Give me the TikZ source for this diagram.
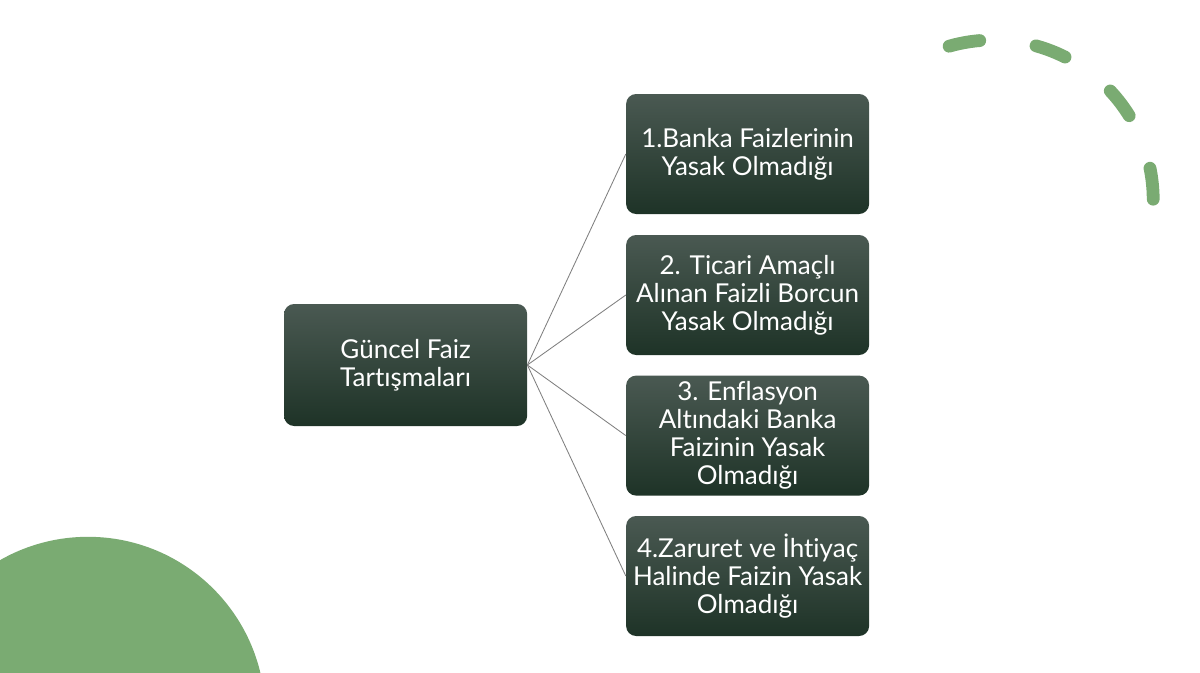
\documentclass[tikz,border=0pt]{standalone}
\usepackage{fontspec}
\setmainfont[Ligatures={NoCommon}]{Lato}
\usepackage{xcolor}
\usepackage{tikz}
\usetikzlibrary{positioning, shadings}

\definecolor{boxtop}{HTML}{4A5952}
\definecolor{boxbot}{HTML}{1E3327}
\definecolor{leaf}{HTML}{7AAB72}
\definecolor{linkgray}{HTML}{7F7F7F}

\begin{document}
\begin{tikzpicture}[
    box/.style={rounded corners=0.25cm, top color=boxtop, bottom color=boxbot,
                draw=none, align=center, text=white, inner sep=2pt,
                minimum width=6.075cm, minimum height=3.0cm,
                font=\fontsize{18.5}{20}\selectfont},
    link/.style={draw=linkgray, line width=0.6pt},
  ]

  % ============ Canvas ============
  \useasboundingbox (0,0) rectangle (30,-16.8);
  \clip (0,0) rectangle (30,-16.8);

  % ============ Decoration ============
  \fill[leaf] (2.2,-17.85) circle (4.43);
  \draw[leaf, line width=0.32cm, line cap=round,
        dash pattern=on 0.78cm off 1.42cm]
    (24.83,-5.0) ++(106:4.0) arc (106:-1:4.0);

  % ============ Root ============
  \node[box, minimum height=3.05cm] (root) at (10.14,-9.125)
    {Güncel Faiz\\Tartışmaları};

  % ============ Branches ============
  \node[box] (b1) at (18.69,-3.85)
    {1.Banka Faizlerinin\\Yasak Olmadığı};
  \node[box] (b2) at (18.69,-7.375)
    {2. Ticari Amaçlı\\Alınan Faizli Borcun\\Yasak Olmadığı};
  \node[box] (b3) at (18.69,-10.89)
    {3. Enflasyon\\Altındaki Banka\\Faizinin Yasak\\Olmadığı};
  \node[box] (b4) at (18.69,-14.4)
    {4.Zaruret ve İhtiyaç\\Halinde Faizin Yasak\\Olmadığı};

  % ============ Connections ============
  \foreach \b in {b1,b2,b3,b4}
    \draw[link] (root.east) -- (\b.west);

\end{tikzpicture}
\end{document}
